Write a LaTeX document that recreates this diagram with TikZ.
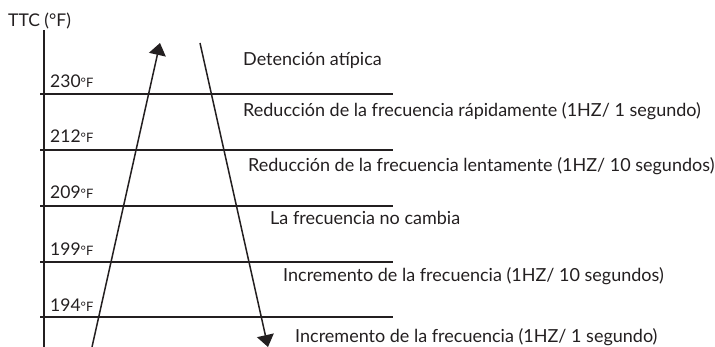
\documentclass[tikz,border=0pt]{standalone}
\usepackage{fontspec}
\setmainfont{Lato}
\usetikzlibrary{arrows.meta}
\definecolor{ink}{HTML}{231F20}
\tikzset{
  lbl/.style={anchor=base west, inner sep=0pt, text=ink, font=\fontsize{18}{20}\selectfont},
  tlbl/.style={anchor=base west, inner sep=0pt, text=ink, font=\fontsize{17.5}{19}\selectfont},
  grid/.style={draw=ink, line width=1.3pt},
  arr/.style={draw=ink, line width=1.5pt, -{Triangle[width=17pt,length=12pt]}}
}
\newcommand{\degF}{{\fontsize{13}{14}\selectfont °F}}
\begin{document}
\begin{tikzpicture}[x=1pt,y=-1pt]
\useasboundingbox (0,0) rectangle (715,347);
% axis
\coordinate (atop) at (44,30);
\coordinate (abot) at (44,347);
\draw[grid] (atop) -- (abot);
% horizontal lines
\foreach \n/\y in {l230/94,l212/150,l209/206,l199/262,l194/317}{
  \coordinate (\n a) at (40,\y);
  \coordinate (\n b) at (393,\y);
  \draw[grid] (\n a) -- (\n b);
}
% arrows
\coordinate (ua) at (92,347);
\coordinate (ub) at (160,43);
\coordinate (da) at (200,43);
\coordinate (db) at (268,347);
\draw[arr] (ua) -- (ub);
\draw[arr] (da) -- (db);
% texts
\node[tlbl] (ttc) at (8,27) {TTC (°F)};
\node[tlbl] (t230) at (50,88) {230\degF};
\node[tlbl] (t212) at (50,143) {212\degF};
\node[tlbl] (t209) at (50,199) {209\degF};
\node[tlbl] (t199) at (50,256) {199\degF};
\node[tlbl] (t194) at (50,312) {194\degF};
\node[lbl] (d1) at (243,66) {Detención atípica};
\node[lbl] (d2) at (243,117) {Reducción de la frecuencia rápidamente (1HZ/ 1 segundo)};
\node[lbl] (d3) at (248,172) {Reducción de la frecuencia lentamente (1HZ/ 10 segundos)};
\node[lbl] (d4) at (270,225) {La frecuencia no cambia};
\node[lbl] (d5) at (283,282) {Incremento de la frecuencia (1HZ/ 10 segundos)};
\node[lbl] (d6) at (295,342) {Incremento de la frecuencia (1HZ/ 1 segundo)};
\end{tikzpicture}
\end{document}
